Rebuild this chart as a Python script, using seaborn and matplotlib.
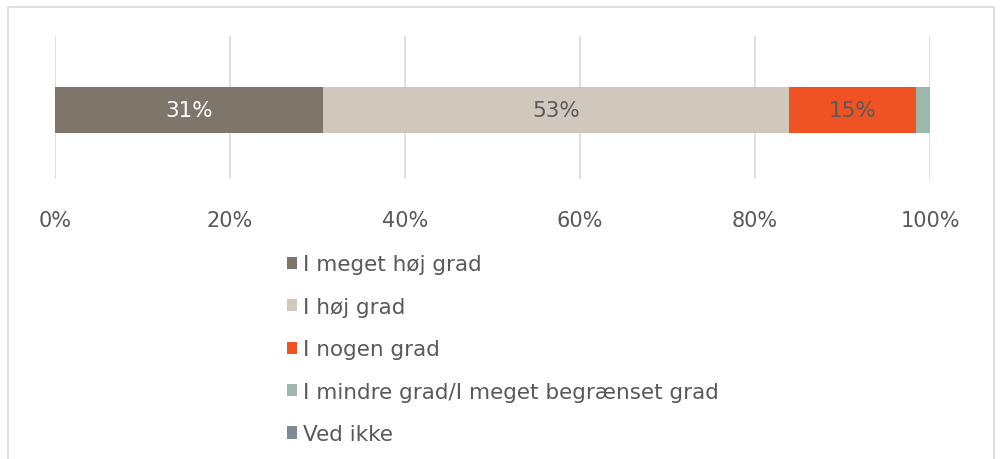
import matplotlib
matplotlib.use("Agg")
import matplotlib.pyplot as plt
import matplotlib.patches as mpatches
import seaborn as sns
import pandas as pd
import numpy as np

categories = ["I meget høj grad", "I høj grad", "I nogen grad",
              "I mindre grad/I meget begrænset grad", "Ved ikke"]
values = [30.6, 53.3, 14.5, 1.6, 0.0]
labels = ["31%", "53%", "15%", "", ""]
colors = ["#7f766b", "#d0c8bd", "#f05323", "#9db8ab", "#7f8896"]
label_colors = ["#ffffff", "#595959", "#595959", "#595959", "#595959"]
tick_vals = [0, 20, 40, 60, 80, 100]
tick_labels = ["0%", "20%", "40%", "60%", "80%", "100%"]

sns.set_theme(style="white")
plt.rcParams['font.family'] = ['DejaVu Sans']

fig = plt.figure(figsize=(10, 4.6), dpi=100)
ax = fig.add_axes([0.055, 1 - 180 / 460, 0.875, 143 / 460])

cum = np.cumsum(values)
starts = cum - np.array(values)
df = pd.DataFrame({"cat": categories, "cum": cum, "row": ["r"] * len(categories)})

# draw in reverse so shorter cumulative bars sit on top
for i in reversed(range(len(categories))):
    sns.barplot(data=df.iloc[[i]], x="cum", y="row", color=colors[i],
                width=0.32, ax=ax, saturation=1, orient="h", zorder=3,
                linewidth=0, edgecolor="none")

for i, lab in enumerate(labels):
    if lab:
        ax.text(starts[i] + values[i] / 2, 0, lab, ha="center", va="center",
                fontsize=15.5, color=label_colors[i], zorder=5)

ax.set_xlim(0, 100)
ax.set_ylim(0.483, -0.517)
ax.set_xticks(tick_vals)
ax.set_xticklabels(tick_labels)
ax.set_yticks([])
ax.set_xlabel("")
ax.set_ylabel("")
ax.tick_params(axis="x", length=0, pad=22, labelsize=15, colors="#595959")
ax.grid(axis="x", color="#d9d9d9", linewidth=1.2, zorder=0)
ax.set_axisbelow(True)
for s in ax.spines.values():
    s.set_visible(False)

handles = [mpatches.Patch(facecolor=c, edgecolor="none") for c in colors]
leg = fig.legend(handles, categories, loc="upper left",
                 bbox_to_anchor=(0.2865, 1 - 255.5 / 460), frameon=False,
                 fontsize=15.5, labelcolor="#595959", handlelength=0.5,
                 handleheight=0.5, handletextpad=0.25, labelspacing=1.04,
                 borderaxespad=0, borderpad=0)

fig.patches.append(mpatches.Rectangle((8 / 1000, -0.1), 986 / 1000, 1.1 - 8 / 460,
                                      transform=fig.transFigure, fill=False,
                                      edgecolor="#d9d9d9", linewidth=1.2))

fig.savefig("out.png", dpi=100, facecolor="white")
